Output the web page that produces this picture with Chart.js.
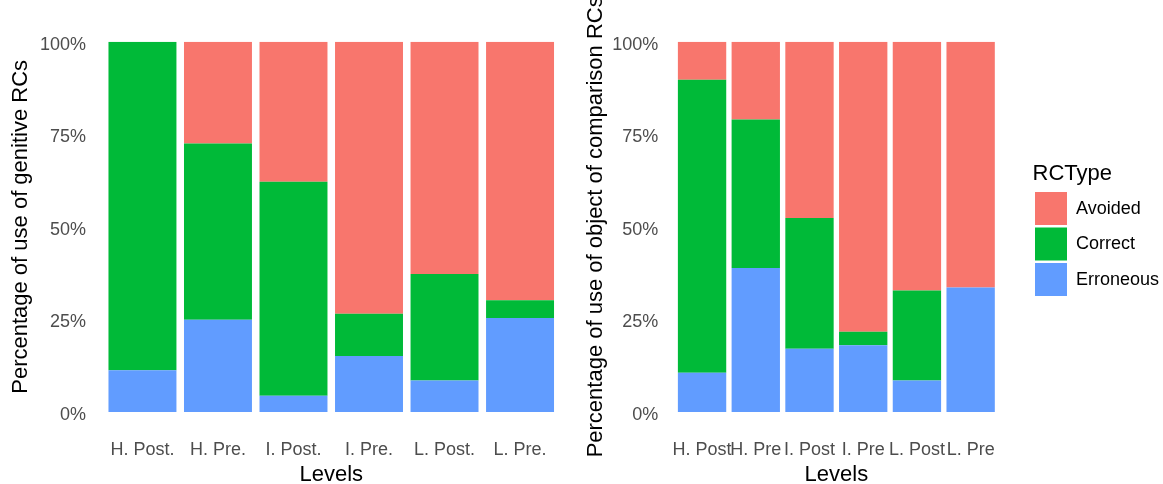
<!DOCTYPE html>
<html>
<head>
<meta charset="utf-8">
<script src="https://cdn.jsdelivr.net/npm/chart.js@4.4.1/dist/chart.umd.min.js"></script>
<style>
  body { margin: 0; background: #fff; }
  #wrap { position: relative; width: 1163px; height: 484px; overflow: hidden; }
  #genitive-chart { position: absolute; left: 0; top: 0; }
  #comparison-chart { position: absolute; left: 580px; top: 0; }
</style>
</head>
<body>
<div id="wrap">
  <canvas id="genitive-chart" width="580" height="484"></canvas>
  <canvas id="comparison-chart" width="583" height="484"></canvas>
</div>
<script>
// levels on the x axis
const genitive_levels = ['H. Post.', 'H. Pre.', 'I. Post.', 'I. Pre.', 'L. Post.', 'L. Pre.'];
const comparison_levels = ['H. Post', 'H. Pre', 'I. Post', 'I. Pre', 'L. Post', 'L. Pre'];

// percentages (each bar sums to 100)
const genitive_erroneous = [11.3, 24.9, 4.4, 15.1, 8.5, 25.4];
const genitive_correct   = [88.7, 47.6, 57.8, 11.4, 28.8, 4.8];
const genitive_avoided   = [0, 27.5, 37.8, 73.5, 62.7, 69.8];

const comparison_erroneous = [10.6, 38.9, 17.1, 18.0, 8.5, 33.6];
const comparison_correct   = [79.1, 40.1, 35.3, 3.7, 24.3, 0];
const comparison_avoided   = [10.3, 21.0, 47.6, 78.3, 67.2, 66.4];

const y_ticks = [0, 25, 50, 75, 100];

const colour_avoided = '#F8766D';
const colour_correct = '#00BA38';
const colour_erroneous = '#619CFF';
const font_family = "'Liberation Sans', Arial, sans-serif";
const tick_colour = '#4D4D4D';

// the legend sits a bit further right and higher than chart.js puts it
const legend_nudge = {
  id: 'legendNudge',
  afterLayout(chart) {
    const legend = chart.legend;
    if (!legend || !legend.options.display) return;
    legend.left += 35;
    legend.right = chart.width;
    legend.top -= 32;
    legend.bottom -= 32;
  }
};

function buildDatasets(erroneous, correct, avoided) {
  // first dataset is stacked at the bottom
  return [
    { label: 'Erroneous', data: erroneous, backgroundColor: colour_erroneous },
    { label: 'Correct', data: correct, backgroundColor: colour_correct },
    { label: 'Avoided', data: avoided, backgroundColor: colour_avoided }
  ].map(d => Object.assign(d, { borderWidth: 0, barPercentage: 0.9, categoryPercentage: 1.0 }));
}

function buildChart(canvas_id, labels, datasets, cfg) {
  return new Chart(document.querySelector(canvas_id), {
    type: 'bar',
    data: { labels: labels, datasets: datasets },
    options: {
      responsive: false,
      animation: false,
      devicePixelRatio: 1,
      layout: { padding: { top: 41.7, right: cfg.pad_right, bottom: 0, left: 0 } },
      plugins: {
        tooltip: { enabled: false },
        legend: cfg.legend
      },
      scales: {
        x: {
          stacked: true,
          grid: { display: false, drawTicks: false },
          border: { display: false },
          ticks: {
            color: tick_colour,
            font: { family: font_family, size: 18 },
            padding: 27,
            autoSkip: false,
            maxRotation: 0,
            minRotation: 0
          },
          title: {
            display: true,
            text: 'Levels',
            color: '#000',
            font: { family: font_family, size: 22, lineHeight: 1 },
            padding: { top: 0, bottom: -2 }
          },
          afterFit(scale) { scale.height = 72; }
        },
        y: {
          stacked: true,
          min: 0,
          max: 100,
          grid: { display: false, drawTicks: false },
          border: { display: false },
          afterBuildTicks(scale) { scale.ticks = y_ticks.map(v => ({ value: v })); },
          ticks: {
            callback: v => v + '%',
            color: tick_colour,
            font: { family: font_family, size: 18 },
            padding: cfg.tick_pad,
            labelOffset: 3
          },
          title: {
            display: true,
            text: cfg.y_title,
            color: '#000',
            font: { family: font_family, size: 22, lineHeight: 1 },
            padding: { top: cfg.title_pad, bottom: 0 }
          },
          afterFit(scale) { scale.width = cfg.axis_width; }
        }
      }
    },
    plugins: [legend_nudge]
  });
}

buildChart('#genitive-chart', genitive_levels,
  buildDatasets(genitive_erroneous, genitive_correct, genitive_avoided), {
    pad_right: 22.2,
    axis_width: 104.7,
    tick_pad: 18.7,
    title_pad: 10,
    y_title: 'Percentage of use of genitive RCs',
    legend: { display: false }
  });

buildChart('#comparison-chart', comparison_levels,
  buildDatasets(comparison_erroneous, comparison_correct, comparison_avoided), {
    pad_right: 45.5,
    axis_width: 95.2,
    tick_pad: 16.9,
    title_pad: 5,
    y_title: 'Percentage of use of object of comparison RCs',
    legend: {
      display: true,
      position: 'right',
      reverse: true,
      maxWidth: 120,
      title: {
        display: true,
        text: 'RCType',
        position: 'start',
        color: '#000',
        font: { family: font_family, size: 22, lineHeight: 1.2 }
      },
      labels: {
        boxWidth: 32,
        boxHeight: 33,
        padding: 2.5,
        color: '#000',
        font: { family: font_family, size: 18 }
      }
    }
  });
</script>
</body>
</html>
